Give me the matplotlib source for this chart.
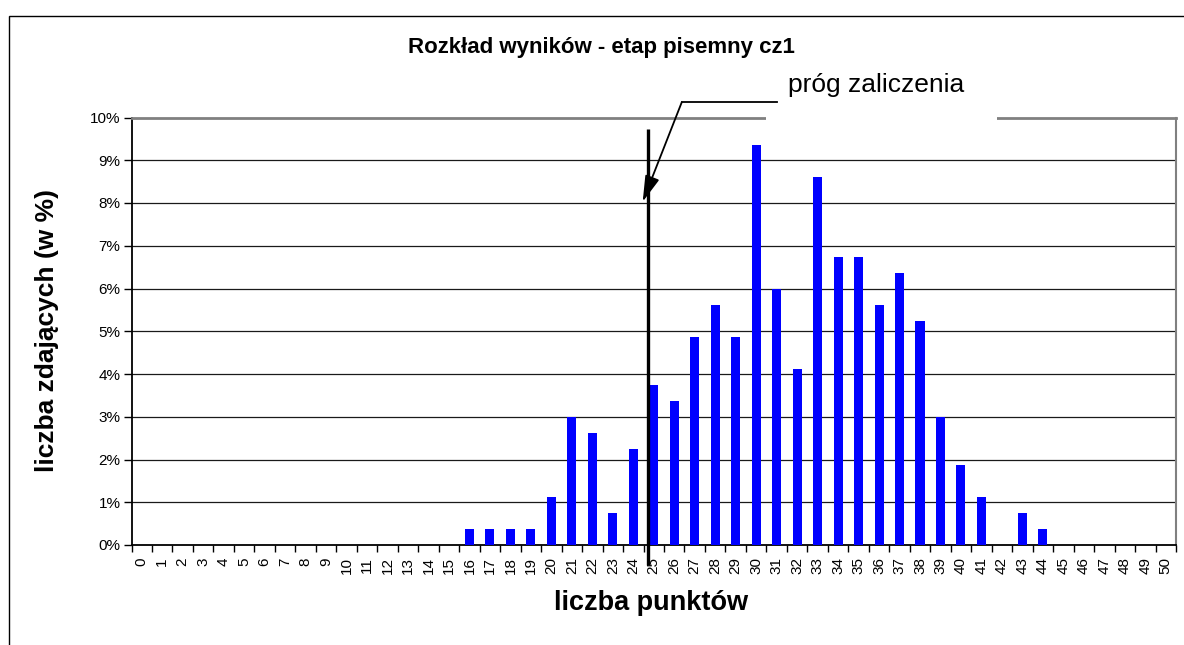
import matplotlib
matplotlib.use("Agg")
import matplotlib.pyplot as plt
from matplotlib.patches import Rectangle
from matplotlib.ticker import FixedLocator, FuncFormatter

plt.rcParams['font.family'] = ['Liberation Sans', 'DejaVu Sans']

# ---- data ----
points = list(range(0, 51))
percent = [0, 0, 0, 0, 0, 0, 0, 0, 0, 0,
           0, 0, 0, 0, 0, 0, 0.37, 0.37, 0.37, 0.37,
           1.12, 3.00, 2.62, 0.75, 2.25, 3.75, 3.37, 4.87, 5.62, 4.87,
           9.36, 5.99, 4.12, 8.61, 6.74, 6.74, 5.62, 6.37, 5.24, 3.00,
           1.87, 1.12, 0, 0.75, 0.37, 0, 0, 0, 0, 0, 0]
yticks = [0, 1, 2, 3, 4, 5, 6, 7, 8, 9, 10]
threshold_x = 24.7
title = "Rozkład wyników - etap pisemny cz1"
xlabel = "liczba punktów"
ylabel = "liczba zdających (w %)"
annot_text = "próg zaliczenia"

W, H = 1184, 645
fig = plt.figure(figsize=(W / 100, H / 100), dpi=100)
fig.patch.set_facecolor('white')

# outer frame
fig.patches.append(Rectangle((8.5 / W, -0.05), 1.2, 1 - 15.5 / H + 0.05,
                             transform=fig.transFigure, fill=False,
                             edgecolor='black', linewidth=1.0, zorder=0))

ax_l, ax_r, ax_t, ax_b = 131.5, 1176, 117.5, 545
ax = fig.add_axes([ax_l / W, 1 - ax_b / H, (ax_r - ax_l) / W, (ax_b - ax_t) / H])

ax.bar(points, percent, width=0.44, color='#0000FF', zorder=3)

ax.set_xlim(-0.5, 50.5)
ax.set_ylim(0, 10)

# grid
for v in yticks[1:-1]:
    ax.axhline(v, color='#1a1a1a', linewidth=0.9, zorder=1)

# spines
ax.spines['left'].set_color('black')
ax.spines['left'].set_linewidth(1.3)
ax.spines['bottom'].set_color('black')
ax.spines['bottom'].set_linewidth(1.3)
ax.spines['top'].set_color('#808080')
ax.spines['top'].set_linewidth(2.0)
ax.spines['right'].set_color('#808080')
ax.spines['right'].set_linewidth(1.5)

# ticks
ax.set_yticks(yticks)
ax.yaxis.set_major_formatter(FuncFormatter(lambda v, p: f"{int(v)}%"))
ax.tick_params(axis='y', direction='out', length=6, width=1, labelsize=11, pad=2)

ax.xaxis.set_major_locator(FixedLocator(points))
ax.set_xticklabels([str(p) for p in points], rotation=90, fontsize=11)
ax.xaxis.set_minor_locator(FixedLocator([p - 0.5 for p in points] + [50.5]))
ax.tick_params(axis='x', which='major', length=0, pad=9)
ax.tick_params(axis='x', which='minor', direction='out', length=5, width=1)
for lbl in ax.get_xticklabels():
    lbl.set_verticalalignment('top')

# threshold line
ax.plot([threshold_x, threshold_x], [9.72, -0.47], color='black', linewidth=2.4,
        clip_on=False, zorder=5, solid_capstyle='butt')

# white box behind annotation text (breaks the top border)
fig.patches.append(Rectangle((766 / W, 1 - 122 / H), (997 - 766) / W, 55 / H,
                             transform=fig.transFigure, facecolor='white',
                             edgecolor='none', zorder=10))

# annotation leader line + arrow
fig.add_artist(plt.Line2D([682 / W, 777 / W], [1 - 102.3 / H, 1 - 102.3 / H],
                          transform=fig.transFigure, color='black', linewidth=1.3,
                          zorder=11))
fig.text(876 / W, 1 - 85 / H, annot_text, ha='center', va='center', fontsize=19,
         zorder=12)
ax.annotate('', xy=(24.46, 8.03), xytext=(26.37, 10.36),
            xycoords='data', textcoords='data',
            arrowprops=dict(arrowstyle='-|>,head_length=1.6,head_width=0.45',
                            color='black', linewidth=1.3, shrinkA=0, shrinkB=0),
            annotation_clip=False, zorder=11)

# titles
fig.text(601 / W, 1 - 48 / H, title, ha='center', va='center', fontsize=16,
         fontweight='bold')
fig.text(651 / W, 1 - 603 / H, xlabel, ha='center', va='center', fontsize=19.5,
         fontweight='bold')
fig.text(47 / W, 1 - 330 / H, ylabel, ha='center', va='center', fontsize=19,
         fontweight='bold', rotation=90)

fig.savefig('out.png', dpi=100)
